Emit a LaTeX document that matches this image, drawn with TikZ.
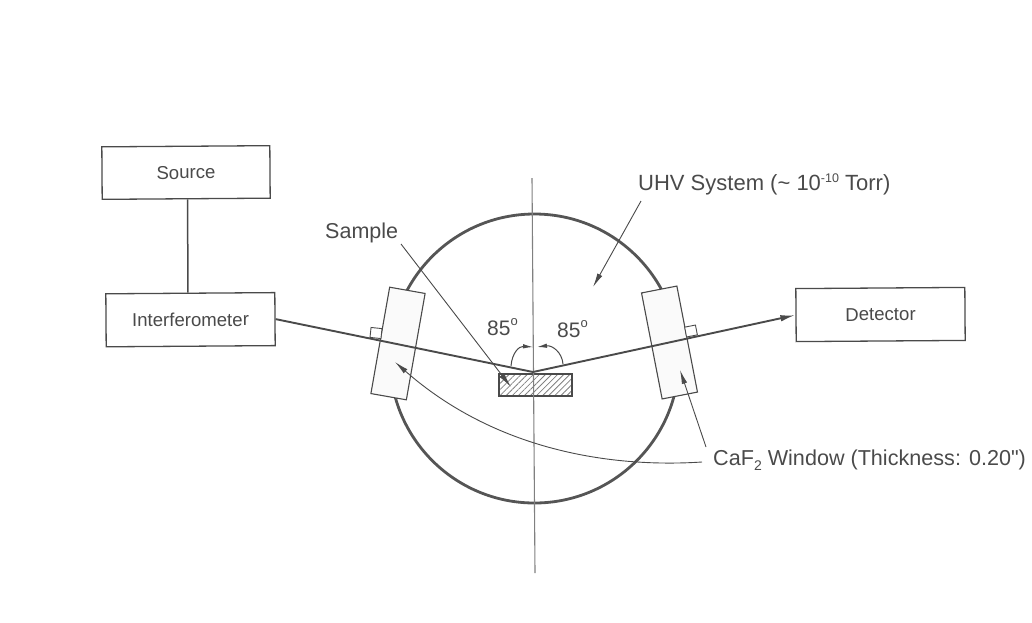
\documentclass[tikz,border=0pt]{standalone}
\usepackage{fontspec}
\setmainfont{Liberation Sans}
\newfontfamily\plainface{Liberation Sans}
\usetikzlibrary{arrows.meta,patterns.meta}
\definecolor{ink}{HTML}{4A4A4A}
\definecolor{inkdark}{HTML}{555555}
\tikzset{
  device/.style={draw=ink,line width=1.3pt,fill=white,rotate=0.4,inner sep=0pt,text=ink,font=\fontsize{18.6}{20}\selectfont},
  windowbox/.style={draw=ink,line width=1.1pt,fill=gray!4,minimum width=36pt,minimum height=108pt,inner sep=0pt},
  lug/.style={draw=ink,line width=0.9pt,fill=white,minimum width=11pt,minimum height=10pt,inner sep=0pt},
  label/.style={inner sep=0pt,text=ink,font=\fontsize{21}{23}\selectfont,anchor=base west},
  beam/.style={draw=ink,line width=1.9pt},
  leader/.style={draw=ink,line width=0.9pt},
  tipbig/.style={-{Latex[length=15pt,width=6.5pt]}},
  tipsmall/.style={-{Latex[length=14pt,width=5.5pt]}}
}
\begin{document}
\begin{tikzpicture}[x=1pt,y=-1pt]
\useasboundingbox (0,0) rectangle (1032,622);
% chamber
\node[circle,draw=inkdark,line width=2.8pt,minimum size=289pt,inner sep=0pt] (chamber) at (534.5,358.5) {};
% axis
\coordinate (axT) at (532,178);
\coordinate (axB) at (535,573);
% sample
\node[draw=ink,line width=1.1pt,minimum width=73pt,minimum height=22pt,inner sep=0pt,
  pattern={Lines[angle=45,distance=4.3pt,line width=0.8pt]},pattern color=gray] (sample) at (535.5,385) {};
\draw[draw=gray,line width=1.1pt] (axT) -- (axB);
% windows
\node[windowbox,rotate=-10] (winL) at (398,343.5) {};
\node[windowbox,rotate=11] (winR) at (669.5,342.5) {};
\node[lug,rotate=-6] (lugL) at (376,333) {};
\node[lug,rotate=11] (lugR) at (691,331) {};
% boxes
\node[device,minimum width=168pt,minimum height=52.5pt] (src) at (186,172.5) {Source};
\node[device,minimum width=169pt,minimum height=53pt] (interf) at (190.5,319.7) {Interferometer};
\node[device,minimum width=169pt,minimum height=53pt] (det) at (880.5,314.5) {Detector};
\draw[draw=ink,line width=1.5pt] ([xshift=1.5pt]src.south) -- ([xshift=-2.5pt]interf.north);
% beam
\coordinate (apex) at (533,372);
\draw[beam,tipbig] (interf.east) -- (apex) -- (det.west);
% angle arcs
\coordinate (arcLs) at (511,366);
\coordinate (arcLe) at (533,347);
\coordinate (arcRs) at (563,364);
\coordinate (arcRe) at (537,347);
\draw[leader,line width=1pt,-{Latex[length=10pt,width=4.5pt]}] (arcLs) .. controls (512,353) and (519,346) .. (arcLe);
\draw[leader,line width=1pt,-{Latex[length=10pt,width=4.5pt]}] (arcRs) .. controls (562,352) and (552,345) .. (arcRe);
% labels
\node[label,font=\fontsize{21.5}{23}\selectfont] (lblSample) at (325,238) {Sample};
\node[label,font=\fontsize{22}{24}\selectfont] (lblUHV) at (638,190) {UHV System (\textasciitilde{} 10\raisebox{0.33em}{\fontsize{12.5}{14}\selectfont -10} Torr)};
\node[label] (lblL) at (487,335) {85\raisebox{0.45em}{\fontsize{13}{14}\selectfont o}};
\node[label] (lblR) at (557,337) {85\raisebox{0.45em}{\fontsize{13}{14}\selectfont o}};
\node[label,font=\fontsize{21.6}{23}\plainface\selectfont] (lblCaF) at (713,465) {CaF\raisebox{-0.25em}{\fontsize{14}{15}\selectfont 2} Window (Thickness: 0.20")};
% leaders
\coordinate (uhvS) at (641,201);
\coordinate (uhvE) at (593,287);
\coordinate (samS) at (401,244);
\coordinate (samE) at (511,387);
\coordinate (cafS) at (706,447);
\coordinate (cafE) at (680,370);
\coordinate (curS) at (702,462);
\coordinate (curE) at (395,362);
\draw[leader,tipsmall] (uhvS) -- (uhvE);
\draw[leader,-{Latex[length=15pt,width=6pt]}] (samS) -- (samE);
\draw[leader,tipsmall] (cafS) -- (cafE);
\draw[leader,tipsmall] (curS) .. controls (610,468) and (495,450) .. (curE);
\end{tikzpicture}
\end{document}
